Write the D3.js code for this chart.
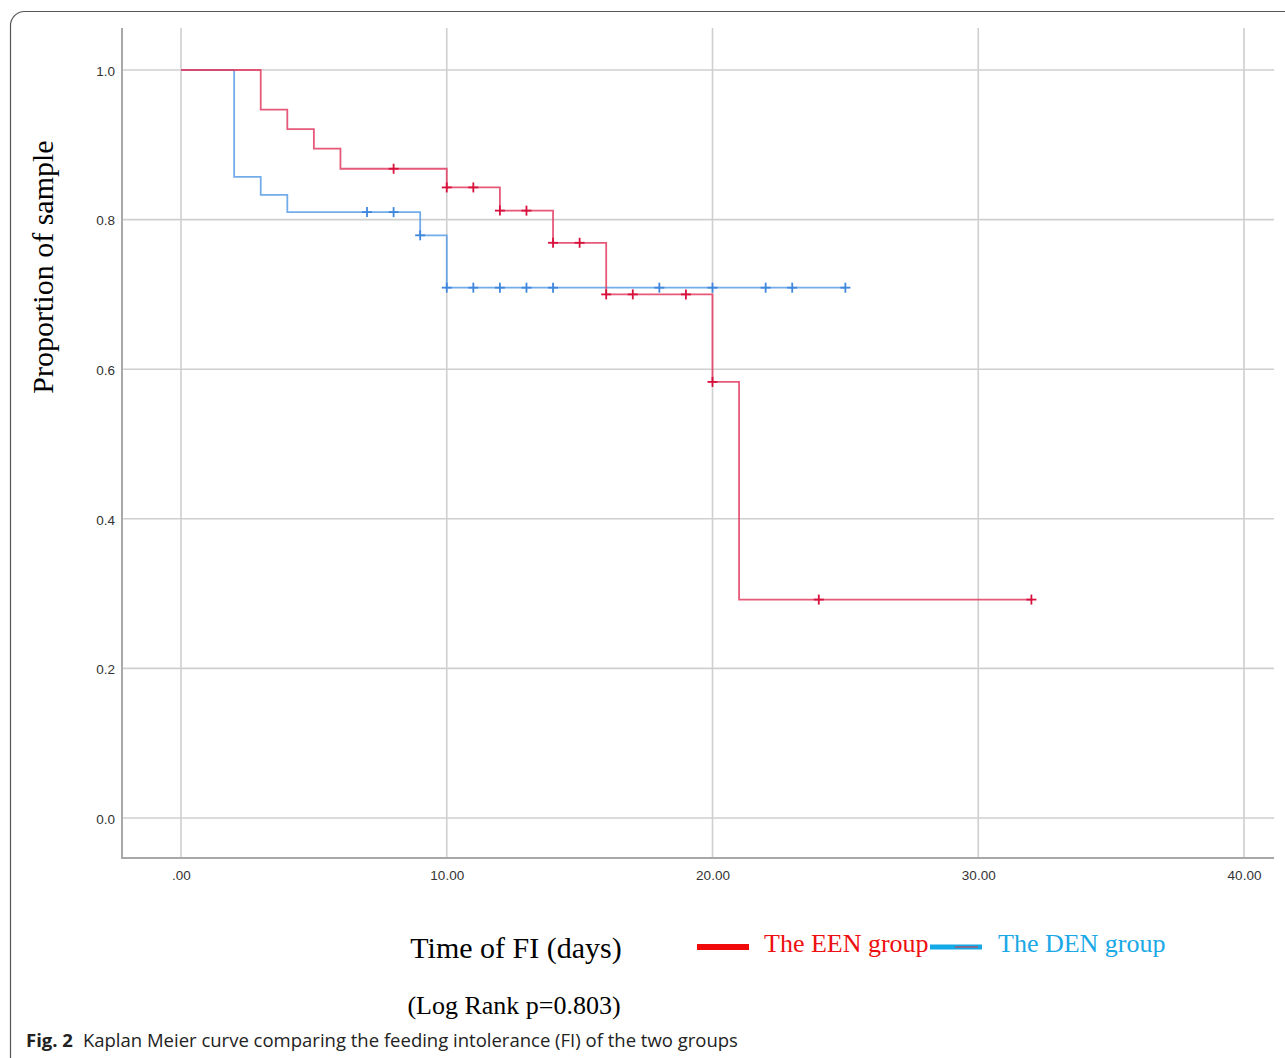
<!DOCTYPE html>
<html>
<head>
<meta charset="utf-8">
<script src="https://cdn.jsdelivr.net/npm/d3@7"></script>
<style>
  html, body { margin: 0; padding: 0; background: #fff; }
  svg { display: block; }
</style>
</head>
<body>
<svg id="chart" width="1285" height="1058"></svg>
<script>
// ---- data ----
const eenTimes = [0, 3, 4, 5, 6, 10, 12, 14, 16, 20, 21];
const eenSurv  = [1.0, 0.947, 0.921, 0.895, 0.868, 0.843, 0.812, 0.769, 0.700, 0.583, 0.292];
const eenEnd   = 32;
const eenCensor = [8, 10, 11, 12, 13, 14, 15, 16, 17, 19, 20, 24, 32];

const denTimes = [0, 2, 3, 4, 9, 10];
const denSurv  = [1.0, 0.857, 0.833, 0.810, 0.779, 0.709];
const denEnd   = 25;
const denCensor = [7, 8, 9, 10, 11, 12, 13, 14, 18, 20, 22, 23, 25];

const xTicks = [0, 10, 20, 30, 40];
const xTickLabels = [".00", "10.00", "20.00", "30.00", "40.00"];
const yTicks = [0.0, 0.2, 0.4, 0.6, 0.8, 1.0];
const yTickLabels = ["0.0", "0.2", "0.4", "0.6", "0.8", "1.0"];

const legendLabels = ["The EEN group", "The DEN group"];

// ---- layout ----
const svg = d3.select("#chart");
const x = d3.scaleLinear().domain([0, 40]).range([181, 1244]);
const y = d3.scaleLinear().domain([0, 1]).range([818, 70]);
const plotLeft = 122, plotRight = 1274, plotTop = 28, plotBottom = 858;

// figure border (rounded, open to the right/bottom)
svg.append("rect")
  .attr("x", 10.5).attr("y", 11.5)
  .attr("width", 1400).attr("height", 1070)
  .attr("rx", 14)
  .attr("fill", "none").attr("stroke", "#555").attr("stroke-width", 1.2);

// gridlines
svg.append("g").selectAll("line").data(yTicks).join("line")
  .attr("x1", plotLeft).attr("x2", plotRight)
  .attr("y1", d => y(d)).attr("y2", d => y(d))
  .attr("stroke", "#cfcfcf").attr("stroke-width", 1.6);
svg.append("g").selectAll("line").data(xTicks).join("line")
  .attr("x1", d => x(d)).attr("x2", d => x(d))
  .attr("y1", plotTop).attr("y2", plotBottom)
  .attr("stroke", "#cfcfcf").attr("stroke-width", 1.6);

// axes lines
svg.append("line").attr("x1", plotLeft).attr("x2", plotLeft)
  .attr("y1", plotTop).attr("y2", plotBottom)
  .attr("stroke", "#a8a8a8").attr("stroke-width", 2);
svg.append("line").attr("x1", plotLeft - 1).attr("x2", plotRight)
  .attr("y1", plotBottom).attr("y2", plotBottom)
  .attr("stroke", "#a8a8a8").attr("stroke-width", 2);

// tick labels using d3 axes (no domain / tick lines)
const yAxis = d3.axisLeft(y).tickValues(yTicks)
  .tickFormat((d, i) => yTickLabels[i]).tickSize(0).tickPadding(0);
const gy = svg.append("g").attr("transform", `translate(115,1)`).call(yAxis);
gy.select(".domain").remove();
gy.selectAll("text").attr("font-family", "Liberation Sans, Arial, sans-serif")
  .attr("font-size", 13.5).attr("fill", "#333");

const xAxis = d3.axisBottom(x).tickValues(xTicks)
  .tickFormat((d, i) => xTickLabels[i]).tickSize(0).tickPadding(0);
const gx = svg.append("g").attr("transform", `translate(0,870)`).call(xAxis);
gx.select(".domain").remove();
gx.selectAll("text").attr("font-family", "Liberation Sans, Arial, sans-serif")
  .attr("font-size", 13.5).attr("fill", "#333");

// step curves
function stepData(times, surv, end) {
  const pts = times.map((t, i) => [t, surv[i]]);
  pts.push([end, surv[surv.length - 1]]);
  return pts;
}
function survAt(times, surv, t) {
  let v = surv[0];
  for (let i = 0; i < times.length; i++) if (times[i] <= t) v = surv[i];
  return v;
}
const line = d3.line().x(d => x(d[0])).y(d => y(d[1])).curve(d3.curveStepAfter);

const groups = [
  { times: denTimes, surv: denSurv, end: denEnd, censor: denCensor, color: "#5a9ee6", mark: "#3f86dd" },
  { times: eenTimes, surv: eenSurv, end: eenEnd, censor: eenCensor, color: "#e23c62", mark: "#d8103c" }
];

groups.forEach(g => {
  svg.append("path")
    .attr("d", line(stepData(g.times, g.surv, g.end)))
    .attr("fill", "none").attr("stroke", g.color)
    .attr("stroke-width", 1.8).attr("stroke-opacity", 0.85);
  const cg = svg.append("g");
  g.censor.forEach(t => {
    const cx = x(t), cy = y(survAt(g.times, g.surv, t));
    cg.append("line").attr("x1", cx).attr("x2", cx).attr("y1", cy - 5).attr("y2", cy + 5)
      .attr("stroke", g.mark).attr("stroke-width", 1.8);
    cg.append("line").attr("x1", cx - 5).attr("x2", cx + 5).attr("y1", cy).attr("y2", cy)
      .attr("stroke", g.mark).attr("stroke-width", 1.8);
  });
});

// axis titles
svg.append("text")
  .attr("transform", "translate(53,267) rotate(-90)")
  .attr("text-anchor", "middle")
  .attr("font-family", "Liberation Serif, 'Times New Roman', serif")
  .attr("font-size", 30).attr("fill", "#000")
  .text("Proportion of sample");

svg.append("text")
  .attr("x", 516).attr("y", 958)
  .attr("text-anchor", "middle")
  .attr("font-family", "Liberation Serif, 'Times New Roman', serif")
  .attr("font-size", 30).attr("fill", "#000")
  .text("Time of FI (days)");

svg.append("text")
  .attr("x", 514).attr("y", 1014)
  .attr("text-anchor", "middle")
  .attr("font-family", "Liberation Serif, 'Times New Roman', serif")
  .attr("font-size", 26).attr("fill", "#000")
  .text("(Log Rank p=0.803)");

// legend
const legendColors = ["#f00a0a", "#14a8e6"];
const legendTextColors = ["#ee1010", "#1aa8e6"];
const legendX = [697, 930];
const legendTX = [764, 998];
legendLabels.forEach((lab, i) => {
  svg.append("line")
    .attr("x1", legendX[i]).attr("x2", legendX[i] + 52)
    .attr("y1", 947).attr("y2", 947)
    .attr("stroke", legendColors[i]).attr("stroke-width", i === 0 ? 6 : 5);
  svg.append("text")
    .attr("x", legendTX[i]).attr("y", 952)
    .attr("font-family", "Liberation Serif, 'Times New Roman', serif")
    .attr("font-size", 26).attr("fill", legendTextColors[i])
    .text(lab);
});
// thin red stroke inside the blue legend swatch (as in source)
svg.append("line").attr("x1", 955).attr("x2", 978).attr("y1", 947).attr("y2", 947)
  .attr("stroke", "#e03040").attr("stroke-width", 1);

// caption
const cap = svg.append("text")
  .attr("x", 26).attr("y", 1047)
  .attr("font-family", "'Open Sans', 'Noto Sans', sans-serif")
  .attr("font-size", 18.5).attr("fill", "#222");
cap.append("tspan").attr("font-weight", "bold").text("Fig. 2");
cap.append("tspan").attr("dx", 10).text("Kaplan Meier curve comparing the feeding intolerance (FI) of the two groups");
</script>
</body>
</html>
